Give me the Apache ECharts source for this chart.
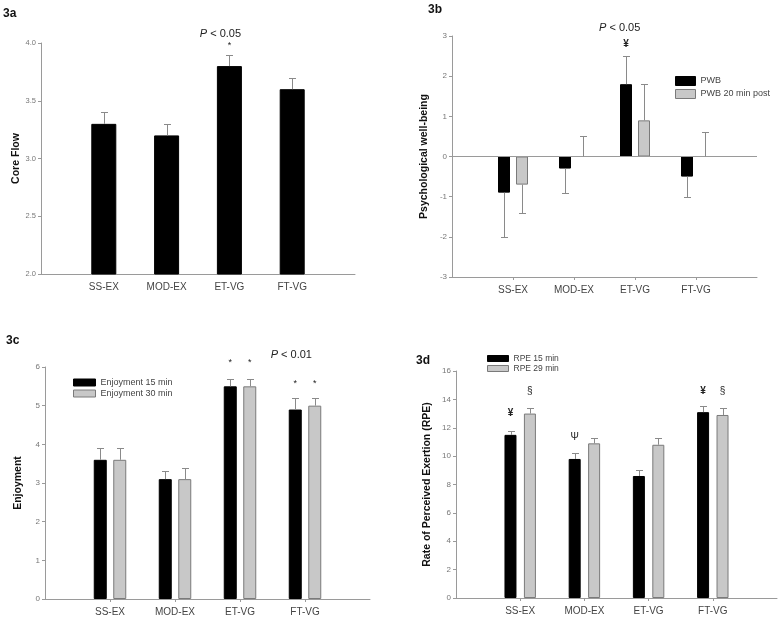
<!DOCTYPE html>
<html><head><meta charset="utf-8">
<script src="https://cdn.jsdelivr.net/npm/echarts@6/dist/echarts.min.js"></script>
<style>html,body{margin:0;padding:0;background:#fff}#c{width:780px;height:620px}</style>
</head><body><div id="c"></div>
<script>
// ---------- data ----------
const categories = ['SS-EX', 'MOD-EX', 'ET-VG', 'FT-VG'];
// 3a Core Flow (mean, top of error bar)
const coreFlow = [3.3, 3.2, 3.8, 3.6];
const coreFlowErr = [3.4, 3.3, 3.9, 3.7];
// 3b Psychological well-being
const pwb = [-0.9, -0.3, 1.8, -0.5];
const pwbErr = [-2.0, -0.9, 2.5, -1.0];
const pwb20 = [-0.7, 0, 0.9, 0];
const pwb20Err = [-1.4, 0.5, 1.8, 0.6];
// 3c Enjoyment
const enjoy15 = [3.6, 3.1, 5.5, 4.9];
const enjoy15Err = [3.9, 3.3, 5.7, 5.2];
const enjoy30 = [3.6, 3.1, 5.5, 5.0];
const enjoy30Err = [3.9, 3.4, 5.7, 5.2];
// 3d RPE
const rpe15 = [11.5, 9.8, 8.6, 13.1];
const rpe15Err = [11.8, 10.2, 9.0, 13.5];
const rpe29 = [13.0, 10.9, 10.8, 12.9];
const rpe29Err = [13.4, 11.3, 11.3, 13.4];
// annotations: [category index (1..4), bar side (0 centre, -1 first bar, 1 second bar), y value, text]
const annoA = [[3, -1, 4.08, 'P < 0.05'], [3, 0, 3.98, '*']];
const annoB = [[3, -1.7, 3.2, 'P < 0.05'], [3, -1, 2.8, '¥']];
const annoC = [[4, -1.4, 6.3, 'P < 0.01'], [3, -1, 6.12, '*'], [3, 1, 6.12, '*'], [4, -1, 5.56, '*'], [4, 1, 5.56, '*']];
const annoD = [[1, -1, 13.0, '¥'], [1, 1, 14.6, '§'], [2, -1, 11.35, 'Ψ'], [4, -1, 14.6, '¥'], [4, 1, 14.6, '§']];

// ---------- helpers ----------
const FONT = 'Liberation Sans, Arial, sans-serif';
const axisCats = [''].concat(categories, ['']);
const AXIS_COLOR = '#9a9a9a';
const toPairs = arr => arr.map((v, i) => [i + 1, v]);
const toErr = (v, e) => v.map((x, i) => [i + 1, x, e[i]]);

function errSeries(idx, vals, errs, offset) {
  return {
    type: 'custom', xAxisIndex: idx, yAxisIndex: idx, clip: false, silent: true, z: 5,
    data: toErr(vals, errs),
    renderItem: function (params, api) {
      const p0 = api.coord([api.value(0), api.value(1)]);
      const p1 = api.coord([api.value(0), api.value(2)]);
      const cx = Math.round(p0[0] + offset) + 0.5;
      const y1 = Math.round(p1[1]) + 0.5;
      return { type: 'group', children: [
        { type: 'line', shape: { x1: cx, y1: p0[1], x2: cx, y2: y1 }, style: { stroke: '#8a8a8a', lineWidth: 1 } },
        { type: 'line', shape: { x1: cx - 3.5, y1: y1, x2: cx + 3.5, y2: y1 }, style: { stroke: '#8a8a8a', lineWidth: 1 } }
      ] };
    }
  };
}

function annoSeries(idx, list, offset) {
  return {
    type: 'custom', xAxisIndex: idx, yAxisIndex: idx, clip: false, silent: true, z: 6,
    data: list.map(a => [a[0], a[2], a[1]]),
    renderItem: function (params, api) {
      const a = list[params.dataIndex];
      const p = api.coord([api.value(0), api.value(1)]);
      const x = p[0] + a[1] * offset;
      let text = a[3], size = 10;
      const rich = { i: { fontStyle: 'italic', fontSize: 11, fontFamily: FONT, fill: '#222' } };
      if (text.charAt(0) === 'P') { text = '{i|P}' + text.slice(1); size = 11; }
      else if (text === '*') { size = 9; }
      return { type: 'text', x: x, y: p[1], style: {
        text: text, fontSize: size, fontFamily: FONT, fill: '#222', rich: rich,
        fontWeight: text === '¥' ? 'bold' : 'normal',
        align: 'center', verticalAlign: 'middle'
      } };
    }
  };
}

function xAx(idx, ticks) {
  return {
    type: 'category', gridIndex: idx, data: axisCats, boundaryGap: false,
    axisLine: { onZero: false, lineStyle: { color: AXIS_COLOR, width: 1 } },
    axisTick: { show: ticks, length: 3, lineStyle: { color: AXIS_COLOR }, interval: (i) => i >= 1 && i <= 4 },
    axisLabel: { color: '#444', fontSize: 10, fontFamily: FONT, margin: 8, interval: 0 },
    splitLine: { show: false }
  };
}
function yAx(idx, min, max, step, name, gap, dec, fs) {
  return {
    type: 'value', gridIndex: idx, min: min, max: max, interval: step,
    name: name, nameLocation: 'middle', nameGap: gap,
    nameTextStyle: { fontWeight: 'bold', fontSize: 10.5, color: '#111', fontFamily: FONT },
    axisLine: { show: true, lineStyle: { color: AXIS_COLOR, width: 1 } },
    axisTick: { show: true, length: 3, lineStyle: { color: AXIS_COLOR } },
    axisLabel: { color: '#777', fontSize: fs, fontFamily: FONT, margin: 5,
      formatter: v => dec ? v.toFixed(dec) : String(v) },
    splitLine: { show: false }
  };
}

const blackStyle = { color: '#000', borderColor: '#000', borderWidth: 1 };
const grayStyle = { color: '#c8c8c8', borderColor: '#7a7a7a', borderWidth: 1 };

const legendBase = { orient: 'vertical', icon: 'rect', padding: 0, itemStyle: { borderWidth: 1 }, textStyle: { color: '#444', fontFamily: FONT } };

const option = {
  backgroundColor: '#fff',
  animation: false,
  title: [
    { text: '3a', left: 3, top: 8 },
    { text: '3b', left: 428, top: 4 },
    { text: '3c', left: 6, top: 335 },
    { text: '3d', left: 416, top: 355 }
  ].map(t => Object.assign(t, { padding: 0, textStyle: { fontSize: 12, fontWeight: 'bold', color: '#111', fontFamily: FONT } })),
  legend: [
    Object.assign({}, legendBase, { data: ['PWB', 'PWB 20 min post'], left: 675, top: 76, itemWidth: 20, itemHeight: 9, itemGap: 3, textStyle: Object.assign({}, legendBase.textStyle, { fontSize: 9 }) }),
    Object.assign({}, legendBase, { data: ['Enjoyment 15 min', 'Enjoyment 30 min'], left: 73, top: 378, itemWidth: 22, itemHeight: 7, itemGap: 2, textStyle: Object.assign({}, legendBase.textStyle, { fontSize: 9 }) }),
    Object.assign({}, legendBase, { data: ['RPE 15 min', 'RPE 29 min'], left: 487, top: 354, itemWidth: 21, itemHeight: 6, itemGap: 1, textStyle: Object.assign({}, legendBase.textStyle, { fontSize: 8.5 }) })
  ],
  grid: [
    { left: 41, top: 43, width: 314, height: 231 },
    { left: 452, top: 36, width: 305, height: 241 },
    { left: 45, top: 367, width: 325, height: 232 },
    { left: 456, top: 371, width: 321, height: 227 }
  ],
  xAxis: [xAx(0, false), xAx(1, true), xAx(2, true), xAx(3, true)],
  yAxis: [
    yAx(0, 2, 4, 0.5, 'Core Flow', 18, 1, 7.5),
    yAx(1, -3, 3, 1, 'Psychological well-being', 22, 0, 8),
    yAx(2, 0, 6, 1, 'Enjoyment', 21, 0, 8),
    yAx(3, 0, 16, 2, 'Rate of Perceived Exertion (RPE)', 23, 0, 8)
  ],
  series: [
    // 3a
    { name: 'Core Flow', type: 'bar', xAxisIndex: 0, yAxisIndex: 0, barWidth: 25, data: toPairs(coreFlow), itemStyle: blackStyle },
    errSeries(0, coreFlow, coreFlowErr, 0),
    annoSeries(0, annoA, 9),
    // 3b
    { name: 'PWB', type: 'bar', xAxisIndex: 1, yAxisIndex: 1, barWidth: 12, barGap: '50%', data: toPairs(pwb), itemStyle: blackStyle,
      markLine: { silent: true, symbol: 'none', label: { show: false }, lineStyle: { color: AXIS_COLOR, type: 'solid', width: 1 }, data: [{ yAxis: 0 }] } },
    { name: 'PWB 20 min post', type: 'bar', xAxisIndex: 1, yAxisIndex: 1, barWidth: 12, barGap: '50%', data: toPairs(pwb20), itemStyle: grayStyle },
    errSeries(1, pwb, pwbErr, -9),
    errSeries(1, pwb20, pwb20Err, 9),
    annoSeries(1, annoB, 9),
    // 3c
    { name: 'Enjoyment 15 min', type: 'bar', xAxisIndex: 2, yAxisIndex: 2, barWidth: 13, barGap: '50%', data: toPairs(enjoy15), itemStyle: blackStyle },
    { name: 'Enjoyment 30 min', type: 'bar', xAxisIndex: 2, yAxisIndex: 2, barWidth: 13, barGap: '50%', data: toPairs(enjoy30), itemStyle: grayStyle },
    errSeries(2, enjoy15, enjoy15Err, -9.75),
    errSeries(2, enjoy30, enjoy30Err, 9.75),
    annoSeries(2, annoC, 9.75),
    // 3d
    { name: 'RPE 15 min', type: 'bar', xAxisIndex: 3, yAxisIndex: 3, barWidth: 12, barGap: '62%', data: toPairs(rpe15), itemStyle: blackStyle },
    { name: 'RPE 29 min', type: 'bar', xAxisIndex: 3, yAxisIndex: 3, barWidth: 12, barGap: '62%', data: toPairs(rpe29), itemStyle: grayStyle },
    errSeries(3, rpe15, rpe15Err, -9.7),
    errSeries(3, rpe29, rpe29Err, 9.7),
    annoSeries(3, annoD, 9.7)
  ]
};

const chart = echarts.init(document.getElementById('c'), null, { renderer: 'canvas' });
chart.setOption(option);
</script>
</body></html>
